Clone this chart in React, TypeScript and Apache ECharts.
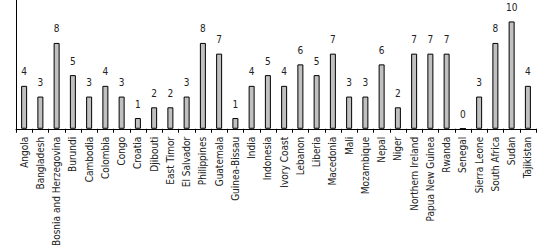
import React, { useEffect, useRef } from "react";
import * as echarts from "echarts";

const countries = [
  "Angola", "Bangladesh", "Bosnia and Herzegovina", "Burundi", "Cambodia", "Colombia",
  "Congo", "Croatia", "Djibouti", "East Timor", "El Salvador", "Philippines", "Guatemala",
  "Guinea-Bissau", "India", "Indonesia", "Ivory Coast", "Lebanon", "Liberia", "Macedonia",
  "Mali", "Mozambique", "Nepal", "Niger", "Northern Ireland", "Papua New Guinea", "Rwanda",
  "Senegal", "Sierra Leone", "South Africa", "Sudan", "Tajikistan",
];
const values = [4, 3, 8, 5, 3, 4, 3, 1, 2, 2, 3, 8, 7, 1, 4, 5, 4, 6, 5, 7, 3, 3, 6, 2, 7, 7, 7, 0, 3, 8, 10, 4];

const FONT = "'Liberation Sans Narrow', 'DejaVu Sans Condensed', 'Open Sans', sans-serif";

export default function App() {
  const ref = useRef<HTMLDivElement>(null);
  useEffect(() => {
    if (!ref.current) return;
    const chart = echarts.init(ref.current, null, { renderer: "svg" });
    chart.setOption({
      animation: false,
      backgroundColor: "#ffffff",
      grid: { left: 16, right: 13, top: 0, bottom: 105, containLabel: false },
      xAxis: {
        type: "category",
        data: countries,
        boundaryGap: true,
        axisLine: { show: true, lineStyle: { color: "#000", width: 1 } },
        axisTick: { show: true, alignWithLabel: false, length: 4, lineStyle: { color: "#000" } },
        axisLabel: {
          rotate: 90,
          interval: 0,
          margin: 8,
          fontSize: 10,
          fontFamily: FONT,
          color: "#222",
        },
      },
      yAxis: {
        type: "value",
        min: 0,
        max: 12,
        interval: 2,
        axisLine: { show: true, lineStyle: { color: "#000", width: 1 } },
        axisTick: { show: false },
        axisLabel: { show: false },
        splitLine: { show: false },
      },
      series: [
        {
          type: "bar",
          data: values,
          barWidth: 6,
          itemStyle: { color: "#c0c0c0", borderColor: "#000", borderWidth: 1 },
          label: {
            show: true,
            position: "top",
            distance: 9,
            fontSize: 10,
            fontFamily: FONT,
            color: "#222",
          },
        },
      ],
    });
    return () => chart.dispose();
  }, []);
  return (
    <div
      ref={ref}
      style={{ position: "fixed", left: 0, top: 0, width: 549, height: 249, background: "#fff" }}
    />
  );
}
